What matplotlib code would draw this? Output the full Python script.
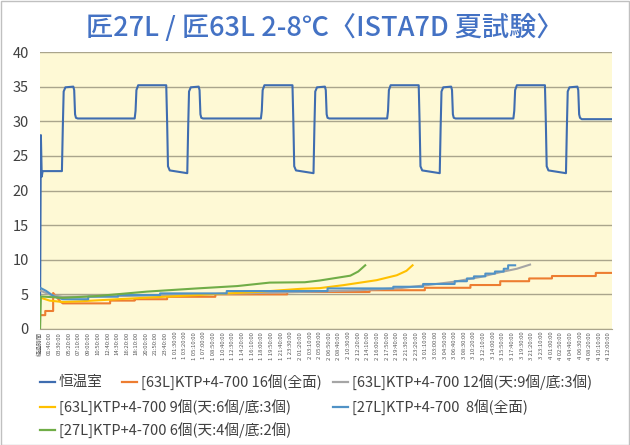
import numpy as np
import matplotlib
matplotlib.use("Agg")
import matplotlib.pyplot as plt
from matplotlib.lines import Line2D
from matplotlib.patches import Rectangle

plt.rcParams['font.family'] = ['Noto Sans CJK JP', 'DejaVu Sans']

# 経過時間 (分) と温度 — 読み取り値
chamber_t = [-10, 0, 10, 20, 240, 250, 260, 280, 370, 380, 390, 400, 420, 1070, 1080, 1090, 1110, 1430, 1440, 1450, 1470, 1670,
             1680, 1690, 1710, 1800, 1810, 1820, 1830, 1850, 2510, 2520, 2530, 2550, 2870, 2880, 2890, 2910, 3110,
             3120, 3130, 3150, 3240, 3250, 3260, 3270, 3290, 3950, 3960, 3970, 3990, 4310, 4320, 4330, 4350, 4550,
             4560, 4570, 4590, 4680, 4690, 4700, 4710, 4730, 5390, 5400, 5410, 5430, 5750, 5760, 5770, 5790, 5990,
             6000, 6010, 6030, 6120, 6130, 6140, 6150, 6170, 6510]
chamber_v = [0, 28.0, 22.0, 22.8, 22.8, 29.0, 34.3, 34.9, 35.0, 34.5, 31.0, 30.5, 30.4, 30.4, 31.5, 34.5, 35.2, 35.2, 30.0, 23.5, 22.9, 22.5,
             29.0, 34.3, 34.9, 35.0, 34.5, 31.0, 30.5, 30.4, 30.4, 31.5, 34.5, 35.2, 35.2, 30.0, 23.5, 22.9, 22.5,
             29.0, 34.3, 34.9, 35.0, 34.5, 31.0, 30.5, 30.4, 30.4, 31.5, 34.5, 35.2, 35.2, 30.0, 23.5, 22.9, 22.5,
             29.0, 34.3, 34.9, 35.0, 34.5, 31.0, 30.5, 30.4, 30.4, 31.5, 34.5, 35.2, 35.2, 30.0, 23.5, 22.9, 22.5,
             29.0, 34.3, 34.9, 35.0, 34.5, 31.0, 30.5, 30.3, 30.3]

l63_16_t = [0, 50, 50, 140, 140, 180, 220, 250, 790, 790, 1070, 1070, 1440, 1440, 1990, 1990, 2810, 2810,
            3750, 3750, 4380, 4380, 4900, 4900, 5240, 5240, 5570, 5570, 5830, 5830, 6330, 6330, 6510]
l63_16_v = [2.0, 2.0, 2.6, 2.6, 5.2, 4.6, 4.0, 3.7, 3.7, 4.1, 4.1, 4.3, 4.3, 4.65, 4.65, 5.0, 5.0, 5.35,
            5.35, 5.6, 5.6, 5.95, 5.95, 6.35, 6.35, 6.9, 6.9, 7.3, 7.3, 7.65, 7.65, 8.1, 8.1]

l63_12_t = [0, 120, 250, 900, 1820, 2960, 3640, 4100, 4400, 4700, 5010, 5240, 5430, 5580]
l63_12_v = [5.5, 4.9, 4.65, 4.75, 5.0, 5.35, 5.6, 5.9, 6.33, 6.8, 7.5, 8.2, 8.7, 9.3]

l63_9_t = [0, 100, 250, 450, 1020, 1780, 2530, 2960, 3180, 3450, 3830, 4060, 4170, 4240]
l63_9_v = [4.5, 4.1, 3.9, 4.0, 4.4, 4.9, 5.4, 5.8, 5.9, 6.33, 7.05, 7.76, 8.4, 9.2]

l27_8_t = [0, 60, 150, 250, 540, 540, 880, 880, 1360, 1360, 2120, 2120, 3270, 3270, 4020, 4020, 4360, 4360,
           4720, 4720, 4860, 4860, 4940, 4940, 5070, 5070, 5180, 5180, 5280, 5280, 5330, 5330, 5410]
l27_8_v = [5.9, 5.5, 4.7, 4.3, 4.3, 4.67, 4.67, 4.9, 4.9, 5.14, 5.14, 5.48, 5.48, 5.86, 5.86, 6.1, 6.1, 6.5,
           6.5, 6.9, 6.9, 7.3, 7.3, 7.6, 7.6, 8.0, 8.0, 8.3, 8.3, 8.7, 8.7, 9.2, 9.2]

l27_6_t = [-10, 0, 250, 640, 1210, 1780, 2240, 2610, 3010, 3180, 3380, 3530, 3620, 3700]
l27_6_v = [0, 4.7, 4.5, 4.76, 5.4, 5.86, 6.2, 6.7, 6.75, 7.0, 7.4, 7.7, 8.3, 9.2]

names = ["恒温室",
         "[63L]KTP+4-700 16個(全面)",
         "[63L]KTP+4-700 12個(天:9個/底:3個)",
         "[63L]KTP+4-700 9個(天:6個/底:3個)",
         "[27L]KTP+4-700  8個(全面)",
         "[27L]KTP+4-700 6個(天:4個/底:2個)"]
colors = ["#3F6DB0", "#ED7D31", "#A5A5A5", "#FFC000", "#5092C6", "#70AD47"]

tick_labels = ["経過時間",
    "01:40:00", "03:30:00", "05:20:00", "07:10:00", "09:00:00", "10:50:00", "12:40:00", "14:30:00",
    "16:20:00", "18:10:00", "20:00:00", "21:50:00", "23:40:00",
    "1 01:30:00", "1 03:20:00", "1 05:10:00", "1 07:00:00", "1 08:50:00", "1 10:40:00", "1 12:30:00",
    "1 14:20:00", "1 16:10:00", "1 18:00:00", "1 19:50:00", "1 21:40:00", "1 23:30:00",
    "2 01:20:00", "2 03:10:00", "2 05:00:00", "2 06:50:00", "2 08:40:00", "2 10:30:00", "2 12:20:00",
    "2 14:10:00", "2 16:00:00", "2 17:50:00", "2 19:40:00", "2 21:30:00", "2 23:20:00",
    "3 01:10:00", "3 03:00:00", "3 04:50:00", "3 06:40:00", "3 08:30:00", "3 10:20:00", "3 12:10:00",
    "3 14:00:00", "3 15:50:00", "3 17:40:00", "3 19:30:00", "3 21:20:00", "3 23:10:00",
    "4 01:00:00", "4 02:50:00", "4 04:40:00", "4 06:30:00", "4 08:20:00", "4 10:10:00", "4 12:00:00"]
tick_pos = [-10] + [100 + 110 * k for k in range(len(tick_labels) - 1)]

series = [(chamber_t, chamber_v), (l63_16_t, l63_16_v), (l63_12_t, l63_12_v),
          (l63_9_t, l63_9_v), (l27_8_t, l27_8_v), (l27_6_t, l27_6_v)]

fig = plt.figure(figsize=(6.3, 4.45), dpi=100)
ax = fig.add_axes([40 / 630, 1 - 329 / 445, 572 / 630, 277 / 445])
ax.set_facecolor("#FEF9D5")

for (t, v), c, n in zip(series, colors, names):
    ax.plot(t, v, color=c, lw=1.5, label=n, solid_joinstyle="round")

ax.set_xlim(-10, 6515)
ax.set_ylim(0, 40)
ax.set_yticks(range(0, 41, 5))
ax.yaxis.grid(True, color="#AAA58C", lw=1)
ax.set_axisbelow(True)
for s in ["top", "right", "left"]:
    ax.spines[s].set_visible(False)
ax.spines["bottom"].set_color("#AAA58C")
ax.tick_params(axis="y", length=0, labelsize=10.5, labelcolor="#404040", pad=8)
ax.set_xticks(tick_pos)
ax.set_xticklabels(tick_labels, rotation=90, fontsize=4.3, color="#595959")
ax.tick_params(axis="x", length=0, pad=2)

fig.text(0.515, 1 - 28 / 445, "匠27L / 匠63L 2-8℃〈ISTA7D 夏試験〉", ha="center", va="center",
         fontsize=19.5, color="#4472C4", fontweight="medium")

# 凡例 (手動配置)
leg_pos = [(40, 382), (122, 382), (333, 382), (40, 407), (333, 407), (40, 430)]
for (px, py), c, n in zip(leg_pos, colors, names):
    y = 1 - py / 445
    fig.add_artist(Line2D([px / 630, (px + 15) / 630], [y, y], color=c, lw=1.6))
    fig.text((px + 19) / 630, y, n, ha="left", va="center", fontsize=10.5, color="#404040")

fig.add_artist(Rectangle((0.001, 0.001), 0.997, 0.997, transform=fig.transFigure,
                         fill=False, ec="#C0C0C0", lw=1))

fig.savefig("out.png", dpi=100)
